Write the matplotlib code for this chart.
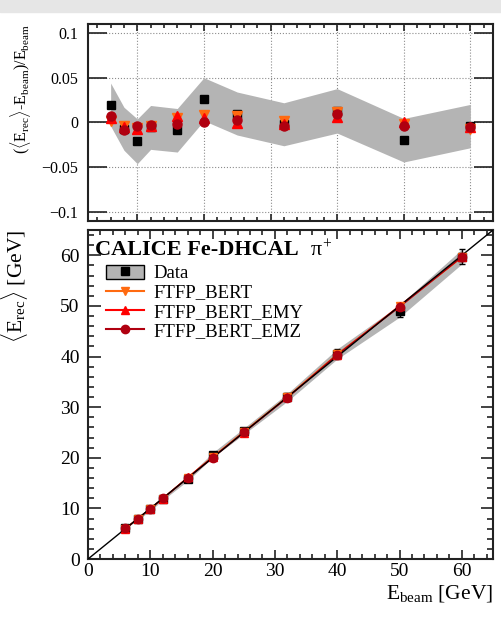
import matplotlib

matplotlib.use("Agg")

import matplotlib.pyplot as plt
import numpy as np
from matplotlib.lines import Line2D
from matplotlib.patches import Patch, Rectangle
from matplotlib.ticker import FixedLocator, FuncFormatter, MultipleLocator

# beam energies [GeV]
E_BEAM = np.array([6, 8, 10, 12, 16, 20, 25, 32, 40, 50, 60])

# relative deviation (<E_rec> - E_beam) / E_beam
DEV_DATA = np.array([0.020, -0.007, -0.021, -0.0055, -0.0087, 0.026, 0.010, -0.002, 0.013, -0.0198, -0.004])
SYS_DATA = np.array([0.024, 0.024, 0.025, 0.0245, 0.0243, 0.024, 0.024, 0.024, 0.0248, 0.0243, 0.0242])
DEV_BERT = np.array([0.002, -0.004, -0.006, -0.004, 0.005, 0.008, 0.007, 0.002, 0.012, -0.002, -0.007])
DEV_EMY = np.array([0.005, -0.005, -0.007, -0.004, 0.007, 0.005, -0.001, -0.002, 0.006, 0.001, -0.005])
DEV_EMZ = np.array([0.007, -0.008, -0.004, -0.003, -0.002, 0.000, 0.003, -0.004, 0.010, -0.004, -0.005])

MODELS = [
    ("FTFP_BERT", DEV_BERT, "#ff6a10", "v"),
    ("FTFP_BERT_EMY", DEV_EMY, "#ff0000", "^"),
    ("FTFP_BERT_EMZ", DEV_EMZ, "#b00010", "o"),
]

TOP_YTICKS = [-0.1, -0.05, 0, 0.05, 0.1]

_BAND = "#b4b4b4"
_AXIS = "#222222"

plt.rcParams["font.family"] = "Liberation Serif"
plt.rcParams["mathtext.fontset"] = "custom"
plt.rcParams["mathtext.rm"] = "Liberation Serif"
plt.rcParams["mathtext.it"] = "Liberation Serif"
plt.rcParams["mathtext.bf"] = "Liberation Serif:bold"

fig = plt.figure(figsize=(5.02, 6.21), dpi=100)
fig.patches.append(Rectangle((0, 1 - 12 / 621), 1, 12 / 621, transform=fig.transFigure,
                             color="#e6e6e6", zorder=0))

ax1 = fig.add_axes([0.1753, 0.6441, 0.8068, 0.3173])
ax2 = fig.add_axes([0.1753, 0.0998, 0.8068, 0.5298])

for ax in (ax1, ax2):
    for sp in ax.spines.values():
        sp.set_linewidth(1.5)
        sp.set_color(_AXIS)

# ---- ratio panel
ax1.fill_between(E_BEAM, DEV_DATA - SYS_DATA, DEV_DATA + SYS_DATA, color=_BAND, lw=0, zorder=2)
ax1.plot(E_BEAM, DEV_DATA, "s", color="black", ms=6, zorder=3)
for name, dev, col, mk in MODELS:
    ax1.plot(E_BEAM, dev, mk, color=col, ms=6.5, zorder=4)

ax1.set_xlim(2.6, 63.4)
ax1.set_ylim(-0.11, 0.11)
ax1.xaxis.set_major_locator(MultipleLocator(10))
ax1.xaxis.set_minor_locator(MultipleLocator(2))
ax1.yaxis.set_major_locator(FixedLocator(TOP_YTICKS))
ax1.yaxis.set_major_formatter(FuncFormatter(lambda v, _: ("%g" % v).replace("-", "\u2212")))
ax1.set_xticklabels([])
ax1.tick_params(which="both", direction="in", top=True, right=True, color=_AXIS, width=1.2)
ax1.tick_params(axis="x", which="major", length=5)
ax1.tick_params(axis="x", which="minor", length=3)
ax1.tick_params(axis="y", which="major", length=14, labelsize=11.5, pad=7)
ax1.grid(True, which="major", ls=":", color="#8c8c8c", lw=0.8)
ax1.set_ylabel(r"$(\langle$E$_{\rm rec}\rangle$-E$_{\rm beam}$)/E$_{\rm beam}$", fontsize=11.5, loc="top")
ax1.yaxis.set_label_coords(-0.136, 1.0)

# ---- response panel
e_rec = E_BEAM * (1 + DEV_DATA)
e_sys = E_BEAM * SYS_DATA
ax2.fill_between(E_BEAM, e_rec - e_sys, e_rec + e_sys, color=_BAND, lw=0, zorder=2)
for name, dev, col, mk in MODELS:
    ax2.plot(E_BEAM, E_BEAM * (1 + dev), "-", color=col, lw=1, zorder=3)
ax2.axline((0, 0), slope=1, color="black", lw=1, zorder=4)
ax2.errorbar(E_BEAM, e_rec, yerr=e_sys, fmt="s", color="black", ms=6, elinewidth=1,
             capsize=2.5, zorder=5)
for name, dev, col, mk in MODELS:
    ax2.plot(E_BEAM, E_BEAM * (1 + dev), mk, color=col, ms=6, zorder=6)

ax2.set_xlim(0, 65)
ax2.set_ylim(0, 65)
for axis in (ax2.xaxis, ax2.yaxis):
    axis.set_major_locator(MultipleLocator(10))
    axis.set_minor_locator(MultipleLocator(2))
ax2.tick_params(which="both", direction="in", top=True, right=True, color=_AXIS, width=1.2,
                labelsize=14)
ax2.tick_params(axis="x", which="major", length=6.5, pad=3)
ax2.tick_params(axis="x", which="minor", length=3.5)
ax2.tick_params(axis="y", which="major", length=9, pad=6)
ax2.tick_params(axis="y", which="minor", length=4.5)
ax2.set_xlabel(r"E$_{\rm beam}$ [GeV]", fontsize=15.5, loc="right")
ax2.xaxis.set_label_coords(1.0, -0.072)
ax2.set_ylabel(r"$\langle$E$_{\rm rec}\rangle$ [GeV]", fontsize=15.5, loc="top")
ax2.yaxis.set_label_coords(-0.143, 1.0)

ax2.text(0.017, 0.97, "CALICE Fe-DHCAL", transform=ax2.transAxes, fontsize=16,
         fontweight="bold", ha="left", va="top")
ax2.text(0.548, 0.97, r"$\pi^{+}$", transform=ax2.transAxes, fontsize=16, ha="left", va="top")

handles = [(Patch(facecolor=_BAND, edgecolor="black", lw=1),
            Line2D([], [], ls="none", marker="s", color="black", ms=5.5))]
labels = ["Data"]
for name, dev, col, mk in MODELS:
    handles.append(Line2D([], [], color=col, lw=1.5, marker=mk, ms=6))
    labels.append(name)
ax2.legend(handles, labels, loc="upper left", bbox_to_anchor=(0.045, 0.895), frameon=False,
           fontsize=13.5, handlelength=2.0, handleheight=0.8, handletextpad=0.5,
           labelspacing=0.08, borderpad=0, borderaxespad=0)

fig.savefig("out.png", dpi=100)
plt.close(fig)
